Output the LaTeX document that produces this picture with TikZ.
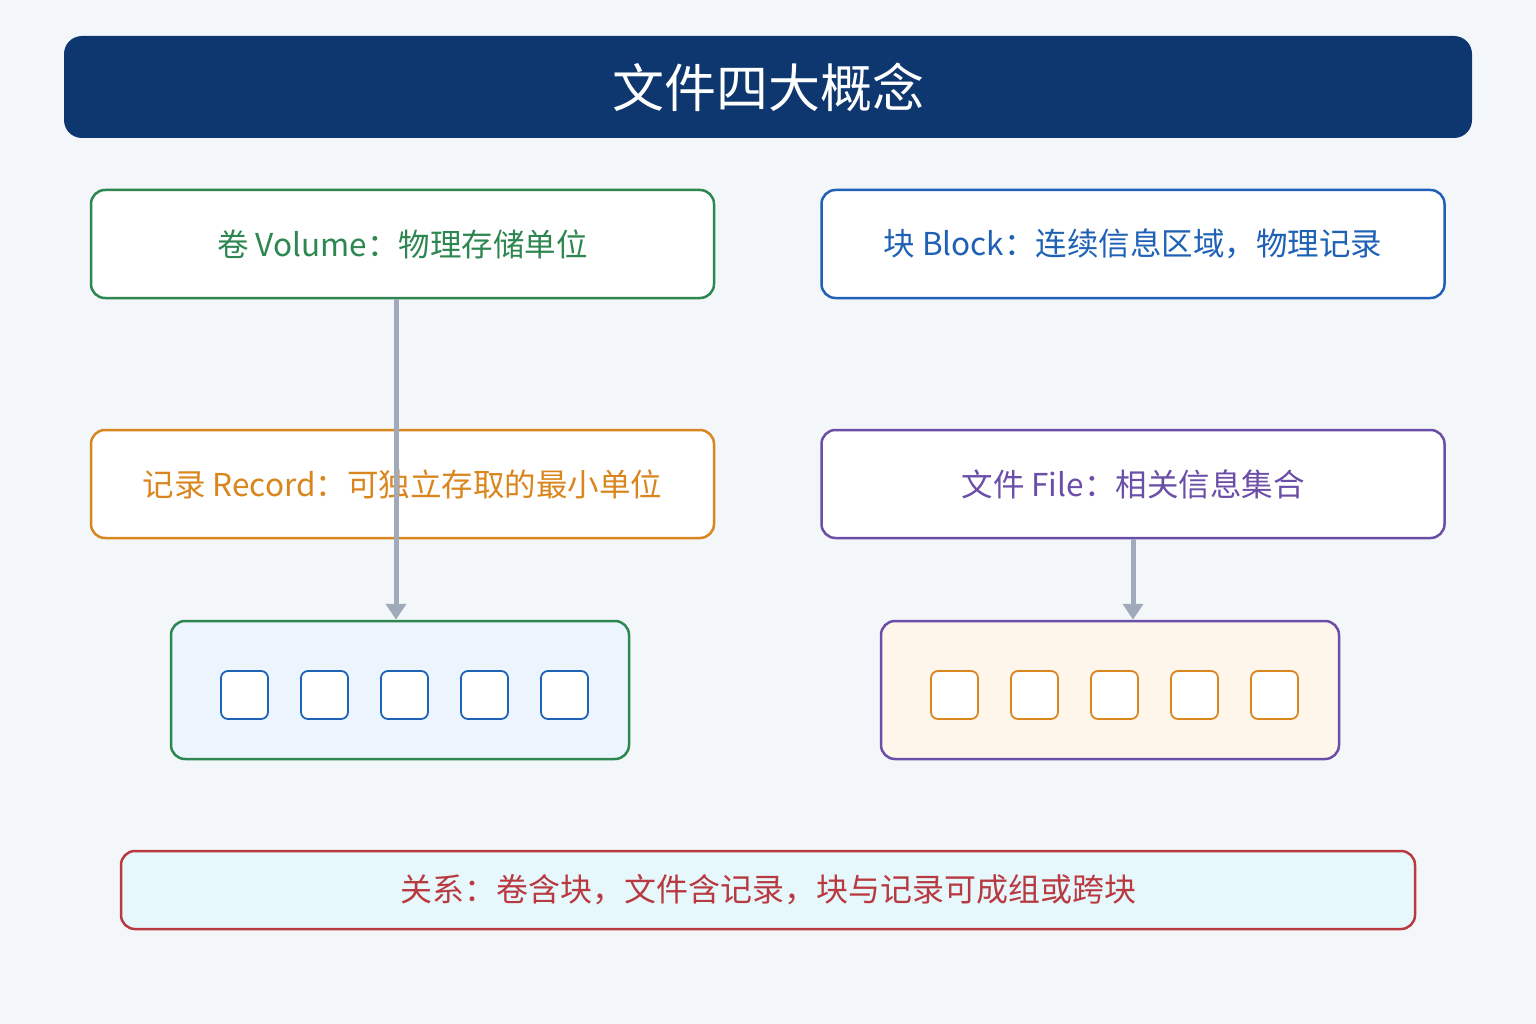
\documentclass[tikz,border=0pt]{standalone}
\usepackage{fontspec}
\setmainfont{Noto Sans CJK SC}
\usetikzlibrary{arrows.meta, positioning}

\definecolor{bgpage}{HTML}{F3F7FA}
\definecolor{titleblue}{HTML}{0E3770}
\definecolor{volgreen}{HTML}{2E8651}
\definecolor{blkblue}{HTML}{1F62B5}
\definecolor{recorange}{HTML}{D9861E}
\definecolor{filepurple}{HTML}{6B4EA7}
\definecolor{relred}{HTML}{B83A40}
\definecolor{arrowgray}{HTML}{A0AABB}
\definecolor{cellbgL}{HTML}{ECF5FD}
\definecolor{cellbgR}{HTML}{FEF6EA}
\definecolor{relbg}{HTML}{E6F8FC}

\tikzset{
  concept/.style={draw=#1, text=#1, fill=white, line width=2.5pt, rounded corners=14pt,
    minimum width=623pt, minimum height=108pt, font=\fontsize{31.5}{36}\selectfont},
  holder/.style={draw=#1, line width=2.5pt, rounded corners=14pt,
    minimum width=458pt, minimum height=138pt},
  cell/.style={draw=#1, fill=white, line width=1.8pt, rounded corners=7pt,
    minimum width=47pt, minimum height=48pt, inner sep=0pt},
  flow/.style={draw=arrowgray, line width=5pt, -{Triangle[width=20pt,length=16pt]}}
}

\begin{document}
\begin{tikzpicture}[x=1pt,y=-1pt]
\useasboundingbox[fill=bgpage] (0,0) rectangle (1536,1024);

% title
\node[fill=titleblue, text=white, rounded corners=18pt, minimum width=1408pt, minimum height=102pt,
  font=\fontsize{52}{60}\selectfont] (title) at (768,87) {文件四大概念};

% the four concepts
\node[concept=volgreen] (volume) at (402.5,244) {卷 Volume：物理存储单位};
\node[concept=blkblue] (block) at (1133,244) {块 Block：连续信息区域，物理记录};
\node[concept=recorange] (record) at (402.5,484) {记录 Record：可独立存取的最小单位};
\node[concept=filepurple] (file) at (1133,484) {文件 File：相关信息集合};

% containers with cells
\node[holder=volgreen, fill=cellbgL] (cellsL) at (400,690) {};
\node[holder=filepurple, fill=cellbgR] (cellsR) at (1110,690) {};
\foreach \i in {0,...,4} {
  \node[cell=blkblue] (bl\i) at (244.5+80*\i,695) {};
  \node[cell=recorange] (fr\i) at (954.5+80*\i,695) {};
}

% arrows
\draw[flow] ([xshift=-6.5pt]volume.south) -- ([xshift=-6.5pt]volume.south |- cellsL.north);
\draw[flow] (file.south) -- (file.south |- cellsR.north);

% relation
\node[draw=relred, text=relred, fill=relbg, line width=2.5pt, rounded corners=14pt,
  minimum width=1294pt, minimum height=78pt, font=\fontsize{32}{36}\selectfont]
  (relation) at (768,890) {关系：卷含块，文件含记录，块与记录可成组或跨块};
\end{tikzpicture}
\end{document}
